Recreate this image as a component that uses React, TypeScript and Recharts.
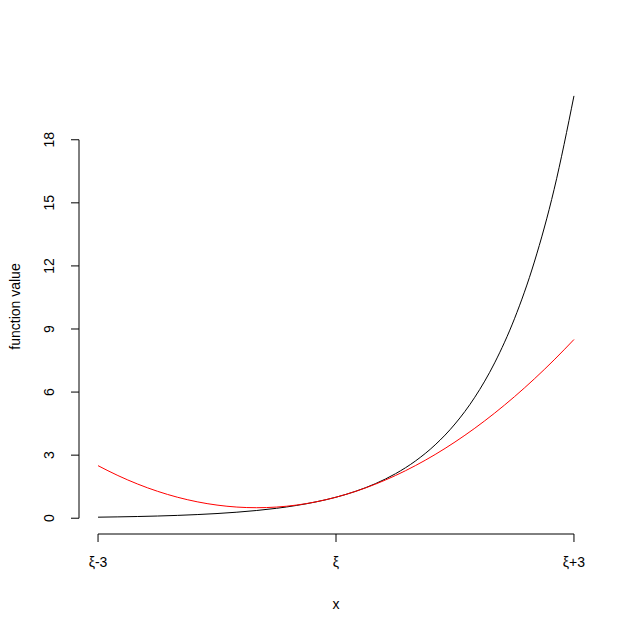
import React from 'react';
import { LineChart, Line, XAxis, YAxis, ReferenceLine } from 'recharts';

// offsets from xi
const xOffsets = [
  -3, -2.75, -2.5, -2.25, -2, -1.75, -1.5, -1.25, -1, -0.75, -0.5, -0.25, 0,
  0.25, 0.5, 0.75, 1, 1.25, 1.5, 1.75, 2, 2.25, 2.5, 2.75, 3,
];
const blackValues = [
  0.05, 0.064, 0.082, 0.105, 0.135, 0.174, 0.223, 0.287, 0.368, 0.472, 0.607,
  0.779, 1.0, 1.284, 1.649, 2.117, 2.718, 3.49, 4.482, 5.755, 7.389, 9.488,
  12.182, 15.643, 20.086,
];
const redValues = [
  2.5, 2.031, 1.625, 1.281, 1.0, 0.781, 0.625, 0.531, 0.5, 0.531, 0.625, 0.781,
  1.0, 1.281, 1.625, 2.031, 2.5, 3.031, 3.625, 4.281, 5.0, 5.781, 6.625, 7.531,
  8.5,
];
const xTicks = [-3, 0, 3];
const xTickLabels = ['ξ-3', 'ξ', 'ξ+3'];
const yTicks = [0, 3, 6, 9, 12, 15, 18];

const data = xOffsets.map((x, i) => ({ x, black: blackValues[i], red: redValues[i] }));

const FONT = '"Liberation Sans", Arial, sans-serif';
const FS = 14;

function XTick(props: any) {
  const { x, y, payload } = props;
  const idx = xTicks.indexOf(payload.value);
  return (
    <text x={x} y={y + 23} textAnchor="middle" fontSize={FS} fontFamily={FONT} fill="#000">
      {xTickLabels[idx]}
    </text>
  );
}

function YTick(props: any) {
  const { x, y, payload } = props;
  return (
    <text
      transform={`translate(${x - 15},${y}) rotate(-90)`}
      textAnchor="middle"
      fontSize={FS}
      fontFamily={FONT}
      fill="#000"
    >
      {payload.value}
    </text>
  );
}

export default function App() {
  return (
    <div style={{ position: 'absolute', left: 0, top: 0, background: '#fff' }}>
      <LineChart
        width={617}
        height={629}
        data={data}
        margin={{ top: 79, right: 24, left: 0, bottom: 0 }}
      >
        <XAxis
          dataKey="x"
          type="number"
          domain={[-3.24, 3.24]}
          ticks={xTicks}
          axisLine={false}
          tickSize={8}
          tickLine={{ stroke: '#000' }}
          tick={<XTick />}
          height={95}
          label={({ viewBox }: any) => (
            <text
              x={viewBox.x + viewBox.width / 2}
              y={609}
              textAnchor="middle"
              fontSize={FS}
              fontFamily={FONT}
              fill="#000"
            >
              x
            </text>
          )}
        />
        <YAxis
          type="number"
          domain={[-0.75, 20.89]}
          ticks={yTicks}
          axisLine={false}
          tickSize={8}
          tickLine={{ stroke: '#000' }}
          tick={<YTick />}
          width={79}
          label={({ viewBox }: any) => (
            <text
              transform={`translate(20,${viewBox.y + viewBox.height / 2}) rotate(-90)`}
              textAnchor="middle"
              fontSize={FS}
              fontFamily={FONT}
              fill="#000"
            >
              function value
            </text>
          )}
        />
        <ReferenceLine
          segment={[{ x: -3.24, y: 0 }, { x: -3.24, y: 18 }]}
          stroke="#000"
          ifOverflow="visible"
        />
        <ReferenceLine
          segment={[{ x: -3, y: -0.75 }, { x: 3, y: -0.75 }]}
          stroke="#000"
          ifOverflow="visible"
        />
        <Line
          dataKey="black"
          type="monotone"
          stroke="#000"
          strokeWidth={1}
          dot={false}
          isAnimationActive={false}
        />
        <Line
          dataKey="red"
          type="monotone"
          stroke="#ff0000"
          strokeWidth={1}
          dot={false}
          isAnimationActive={false}
        />
      </LineChart>
    </div>
  );
}
